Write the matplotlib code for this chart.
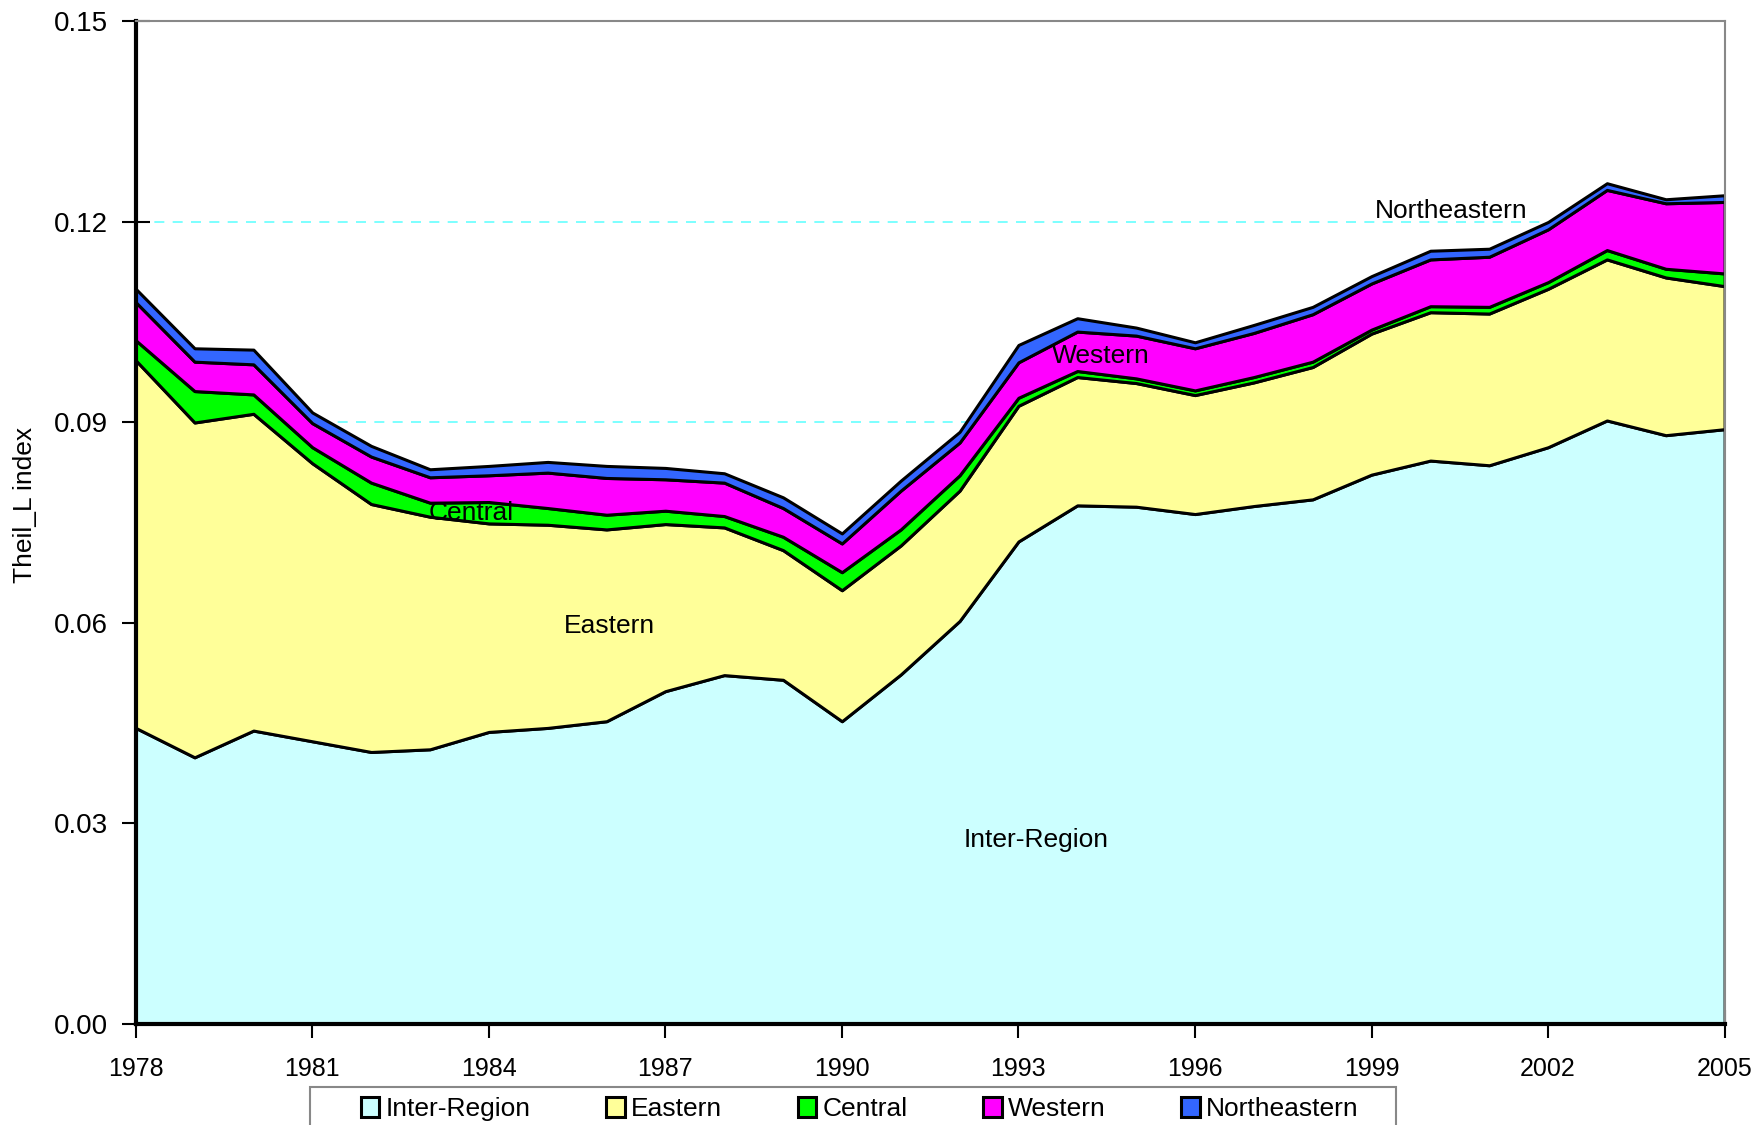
import matplotlib
matplotlib.use("Agg")
import matplotlib.pyplot as plt
from matplotlib.patches import Rectangle
import numpy as np

plt.rcParams['font.family'] = ['Liberation Sans', 'DejaVu Sans']

years = list(range(1978, 2006))
inter_region = [0.0443, 0.0399, 0.0439, 0.0423, 0.0407, 0.0411, 0.0437, 0.0443, 0.0453, 0.0498,
                0.0522, 0.0515, 0.0453, 0.0523, 0.0603, 0.0722, 0.0776, 0.0774, 0.0763, 0.0775,
                0.0785, 0.0822, 0.0843, 0.0836, 0.0863, 0.0903, 0.0881, 0.0890]
eastern = [0.0550, 0.0501, 0.0474, 0.0416, 0.0371, 0.0348, 0.0312, 0.0304, 0.0287, 0.0250,
           0.0221, 0.0194, 0.0196, 0.0193, 0.0195, 0.0203, 0.0192, 0.0185, 0.0178, 0.0185,
           0.0198, 0.0211, 0.0222, 0.0227, 0.0237, 0.0241, 0.0236, 0.0214]
central = [0.0030, 0.0047, 0.0029, 0.0024, 0.0032, 0.0021, 0.0032, 0.0025, 0.0022, 0.0020,
           0.0017, 0.0020, 0.0027, 0.0024, 0.0023, 0.0012, 0.0009, 0.0007, 0.0007, 0.0008,
           0.0008, 0.0006, 0.0009, 0.0010, 0.0010, 0.0014, 0.0013, 0.0019]
western = [0.0057, 0.0044, 0.0045, 0.0036, 0.0039, 0.0038, 0.0040, 0.0053, 0.0055, 0.0047,
           0.0050, 0.0043, 0.0043, 0.0058, 0.0049, 0.0053, 0.0059, 0.0064, 0.0063, 0.0066,
           0.0071, 0.0069, 0.0070, 0.0075, 0.0079, 0.0090, 0.0098, 0.0107]
northeastern = [0.0020, 0.0020, 0.0022, 0.0016, 0.0016, 0.0012, 0.0014, 0.0016, 0.0018, 0.0017,
                0.0014, 0.0016, 0.0015, 0.0015, 0.0016, 0.0026, 0.0020, 0.0012, 0.0009, 0.0012,
                0.0011, 0.0011, 0.0013, 0.0012, 0.0011, 0.0010, 0.0006, 0.0010]

series_names = ["Inter-Region", "Eastern", "Central", "Western", "Northeastern"]
colors = ["#CCFFFF", "#FFFF99", "#00FF00", "#FF00FF", "#3366FF"]
x_ticks = [1978, 1981, 1984, 1987, 1990, 1993, 1996, 1999, 2002, 2005]
y_ticks = [0.00, 0.03, 0.06, 0.09, 0.12, 0.15]
y_ticklabels = ["0.00", "0.03", "0.06", "0.09", "0.12", "0.15"]

W, H = 1758, 1125
fig = plt.figure(figsize=(W / 100, H / 100), dpi=100)
ax = fig.add_axes([0.0772, 0.0898, 0.9038, 0.8911])

ax.set_xlim(1978, 2005)
ax.set_ylim(0, 0.15)
for yv in [0.09, 0.12]:
    ax.axhline(yv, color="#66FFFF", lw=1.2, ls=(0, (6, 5)), zorder=0)

polys = ax.stackplot(years, inter_region, eastern, central, western, northeastern,
                     colors=colors, labels=series_names, edgecolor="black",
                     linewidth=2.2, zorder=2)

ax.set_xticks(x_ticks)
ax.set_xticklabels([str(v) for v in x_ticks], fontsize=18)
ax.set_yticks(y_ticks)
ax.set_yticklabels(y_ticklabels, fontsize=20)
ax.tick_params(axis='both', direction='inout', length=20, width=1.5, color='black')
ax.tick_params(axis='x', pad=14)
ax.tick_params(axis='y', pad=10)

for s in ['left', 'bottom']:
    ax.spines[s].set_linewidth(3)
    ax.spines[s].set_color('black')
    ax.spines[s].set_zorder(5)
for s in ['top', 'right']:
    ax.spines[s].set_linewidth(1.5)
    ax.spines[s].set_color('#888888')
    ax.spines[s].set_zorder(5)

ax.set_ylabel("Theil_L index", fontsize=19)
ax.yaxis.label.set_verticalalignment('center')
ax.yaxis.set_label_coords(-0.0699, 0.518)

lab_fs = 19
ax.text(1993.3, 0.0275, "Inter-Region", fontsize=lab_fs, ha='center', va='center', zorder=6)
ax.text(1986.05, 0.0596, "Eastern", fontsize=lab_fs, ha='center', va='center', zorder=6)
ax.text(1983.7, 0.0765, "Central", fontsize=lab_fs, ha='center', va='center', zorder=6)
ax.text(1994.4, 0.1000, "Western", fontsize=lab_fs, ha='center', va='center', zorder=6)
ax.text(2000.35, 0.1216, "Northeastern", fontsize=lab_fs, ha='center', va='center', zorder=6)

# legend frame (extends below the figure edge, as in the reference)
frame = Rectangle((310 / W, 1 - 1150 / H), (1396 - 310) / W, (1150 - 1087) / H,
                  transform=fig.transFigure, fill=False, edgecolor='#888888',
                  linewidth=1.5, clip_on=False)
fig.patches.append(frame)

leg = fig.legend(handles=polys, labels=series_names, loc='upper left',
                 bbox_to_anchor=(361 / W, 1 - 1097 / H), ncol=5, fontsize=19,
                 frameon=False, handlelength=0.7, handleheight=0.8, handletextpad=0.25,
                 columnspacing=2.85, borderpad=0, borderaxespad=0)

fig.savefig("out.png", dpi=100)
